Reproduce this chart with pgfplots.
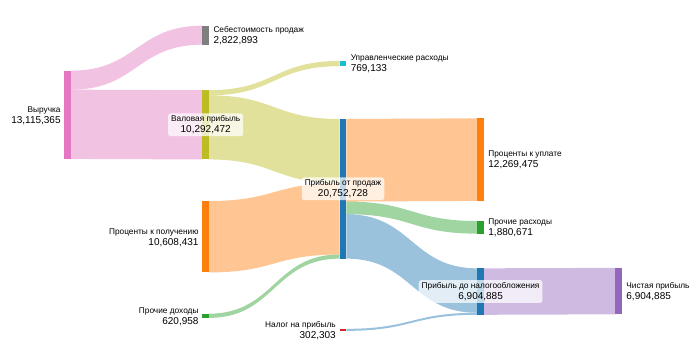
\documentclass[border=0pt]{standalone}
\usepackage{pgfplots}
\pgfplotsset{compat=1.18}
\usepackage{fontspec}
\setmainfont{Liberation Sans}
\definecolor{cpink}{HTML}{E377C2}
\definecolor{cgray}{HTML}{7F7F7F}
\definecolor{colive}{HTML}{BCBD22}
\definecolor{ccyan}{HTML}{17BECF}
\definecolor{cblue}{HTML}{1F77B4}
\definecolor{corange}{HTML}{FF7F0E}
\definecolor{cgreen}{HTML}{2CA02C}
\definecolor{cred}{HTML}{D62728}
\definecolor{cpurple}{HTML}{9467BD}
\newcommand{\namefont}{\fontsize{8.3}{9}\selectfont}
\newcommand{\valfont}{\fontsize{10}{11}\selectfont}
% link: x0 (source right edge), source top, x1 (target left edge), target top, value, colour
\newcommand{\lnk}[6]{%
  \pgfmathsetmacro\xm{(#1+#3)/2}%
  \pgfmathsetmacro\ysb{#2+#5}%
  \pgfmathsetmacro\ytb{#4+#5}%
  \edef\tmp{\noexpand\fill[#6,fill opacity=0.45] (axis cs:#1,#2) .. controls (axis cs:\xm,#2) and (axis cs:\xm,#4) .. (axis cs:#3,#4) -- (axis cs:#3,\ytb) .. controls (axis cs:\xm,\ytb) and (axis cs:\xm,\ysb) .. (axis cs:#1,\ysb) -- cycle;}\tmp}
% node bar: x left, top, value, colour
\newcommand{\nodebar}[4]{%
  \pgfmathsetmacro\xr{#1+6.8}%
  \pgfmathsetmacro\yb{#2+#3}%
  \edef\tmp{\noexpand\fill[#4] (axis cs:#1,#2) rectangle (axis cs:\xr,\yb);}\tmp}
% right label: x left of node, top, value, name, text
\newcommand{\rlab}[5]{%
  \pgfmathsetmacro\xl{#1+6.8+4.2}%
  \pgfmathsetmacro\yc{#2+#3/2}%
  \edef\tmp{\noexpand\node[anchor=base west,inner sep=0pt] at (axis cs:\xl,\yc) [yshift=2.6pt] {\noexpand\namefont #4};}\tmp
  \edef\tmp{\noexpand\node[anchor=base west,inner sep=0pt] at (axis cs:\xl,\yc) [yshift=-8.3pt] {\noexpand\valfont #5};}\tmp}
\newcommand{\llab}[5]{%
  \pgfmathsetmacro\xl{#1-3.6}%
  \pgfmathsetmacro\yc{#2+#3/2}%
  \edef\tmp{\noexpand\node[anchor=base east,inner sep=0pt] at (axis cs:\xl,\yc) [yshift=2.6pt] {\noexpand\namefont #4};}\tmp
  \edef\tmp{\noexpand\node[anchor=base east,inner sep=0pt] at (axis cs:\xl,\yc) [yshift=-8.3pt] {\noexpand\valfont #5};}\tmp}
\newcommand{\clab}[5]{%
  \pgfmathsetmacro\xl{#1+3.4}%
  \pgfmathsetmacro\yc{#2+#3/2}%
  \edef\tmp{\noexpand\node[fill=white,fill opacity=0.72,text opacity=1,rounded corners=2.5pt,align=center,inner xsep=3pt,inner ysep=2pt] at (axis cs:\xl,\yc) {\noexpand\namefont #4\noexpand\\[-0.6pt]\noexpand\valfont #5};}\tmp}
\begin{document}
\begin{tikzpicture}
\begin{axis}[
  width=700pt, height=350pt, scale only axis,
  xmin=0, xmax=700, ymin=0, ymax=52.00594,
  y dir=reverse, hide axis, clip=false]
% links (values in millions)
\lnk{71.2}{10.50}{202.3}{3.82}{2.822893}{cpink}
\lnk{71.2}{13.322893}{202.3}{13.40}{10.292472}{cpink}
\lnk{209.1}{13.40}{339.6}{9.06}{0.769133}{colive}
\lnk{209.1}{14.169133}{339.6}{17.68}{9.523339}{colive}
\lnk{209.1}{29.87}{339.6}{27.203339}{10.608431}{corange}
\lnk{209.1}{46.61}{339.6}{37.81177}{0.620958}{cgreen}
\lnk{346.4}{17.68}{477.2}{17.58}{12.269475}{corange}
\lnk{346.4}{29.949475}{477.2}{32.84}{1.880671}{cgreen}
\lnk{346.4}{31.830146}{477.2}{39.87}{6.602582}{cblue}
\lnk{346.4}{48.86}{477.2}{46.472582}{0.302303}{cblue}
\lnk{484.0}{39.87}{615.2}{39.80}{6.904885}{cpurple}
% nodes
\nodebar{64.4}{10.50}{13.115365}{cpink}
\nodebar{202.3}{3.82}{2.822893}{cgray}
\nodebar{202.3}{13.40}{10.292472}{colive}
\nodebar{339.6}{9.06}{0.769133}{ccyan}
\nodebar{202.3}{29.87}{10.608431}{corange}
\nodebar{202.3}{46.61}{0.620958}{cgreen}
\nodebar{339.6}{17.68}{20.752728}{cblue}
\nodebar{339.6}{48.86}{0.302303}{cred}
\nodebar{477.2}{17.58}{12.269475}{corange}
\nodebar{477.2}{32.84}{1.880671}{cgreen}
\nodebar{477.2}{39.87}{6.904885}{cblue}
\nodebar{615.2}{39.80}{6.904885}{cpurple}
% labels
\llab{64.4}{10.50}{13.115365}{Выручка}{13,115,365}
\rlab{202.3}{3.82}{2.822893}{Себестоимость продаж}{2,822,893}
\clab{202.3}{13.40}{10.292472}{Валовая прибыль}{10,292,472}
\rlab{339.6}{9.06}{0.769133}{Управленческие расходы}{769,133}
\llab{202.3}{29.87}{10.608431}{Проценты к получению}{10,608,431}
\llab{202.3}{46.61}{0.620958}{Прочие доходы}{620,958}
\clab{339.6}{17.68}{20.752728}{Прибыль от продаж}{20,752,728}
\llab{339.6}{48.86}{0.302303}{Налог на прибыль}{302,303}
\rlab{477.2}{17.58}{12.269475}{Проценты к уплате}{12,269,475}
\rlab{477.2}{32.84}{1.880671}{Прочие расходы}{1,880,671}
\clab{477.2}{39.87}{6.904885}{Прибыль до налогообложения}{6,904,885}
\rlab{615.2}{39.80}{6.904885}{Чистая прибыль}{6,904,885}
\end{axis}
\pgfresetboundingbox
\useasboundingbox (current axis.south west) rectangle (current axis.north east);
\end{tikzpicture}
\end{document}
